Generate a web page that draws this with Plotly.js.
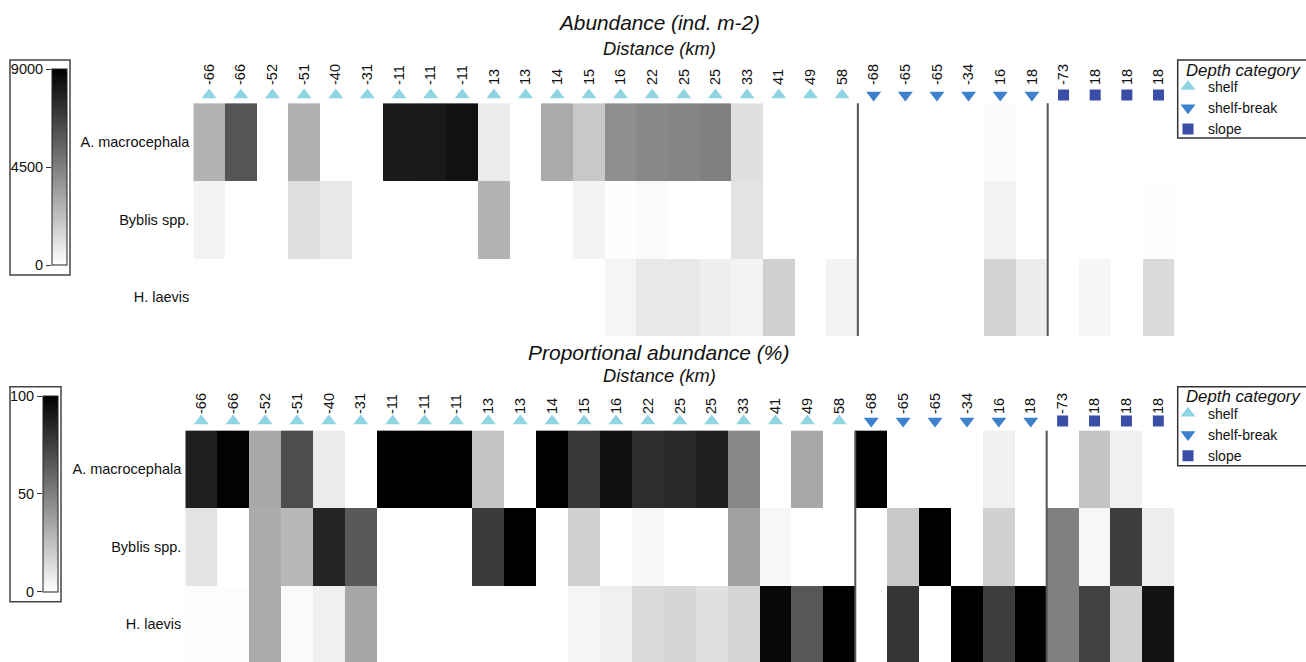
<!DOCTYPE html>
<html>
<head>
<meta charset="utf-8">
<script src="https://cdn.plot.ly/plotly-3.0.1.min.js"></script>
<style>
  html, body { margin: 0; padding: 0; background: #fff; }
  #chart { width: 1306px; height: 662px; }
</style>
</head>
<body>
<div id="chart"></div>
<script>
// ---------------- DATA ----------------
const stations = ['-66','-66','-52','-51','-40','-31','-11','-11','-11','13','13','14','15','16','22','25','25','33','41','49','58',
                  '-68','-65','-65','-34','16','18',
                  '-73','18','18','18'];
const depthCategory = ['shelf','shelf','shelf','shelf','shelf','shelf','shelf','shelf','shelf','shelf','shelf','shelf','shelf','shelf','shelf','shelf','shelf','shelf','shelf','shelf','shelf',
                       'shelf-break','shelf-break','shelf-break','shelf-break','shelf-break','shelf-break',
                       'slope','slope','slope','slope'];
const species = ['A. macrocephala', 'Byblis spp.', 'H. laevis'];

// Abundance (ind. m-2)
const abundA = [2680,6000,0,2800,0,0,8080,8100,8400,700,0,3000,1940,3950,4200,4300,4500,1100,0,0,0,0,0,0,0,180,0,0,0,0,0];
const abundB = [420,0,0,1160,810,0,0,0,0,2680,0,0,420,30,180,0,0,990,0,0,0,0,0,0,0,420,0,0,0,0,50];
const abundH = [0,0,0,0,0,0,0,0,0,0,0,0,0,350,810,810,600,420,1660,0,420,0,0,0,0,1550,670,0,320,0,1300];

// Proportional abundance (%)
const propA = [88,99,34,70,8,0,100,100,100,23,0,100,78,94,82,84,88,47,0,34,0,100,0,0,0,6,0,0,23,6,0];
const propB = [11,0,33,28,86,65,0,0,0,77,100,0,18,0,3,0,0,37,3,0,0,0,21,100,0,18,0,50,3,76,7];
const propH = [1,1,33,2,6,35,0,0,0,0,0,0,4,6,15,16,12,16,97,66,100,0,79,0,100,76,100,50,74,18,93];

const abundTicks = [0, 4500, 9000];
const propTicks = [0, 50, 100];

const categories = ['shelf', 'shelf-break', 'slope'];
const catSymbols = {'shelf': 'triangle-up', 'shelf-break': 'triangle-down', 'slope': 'square'};
const catColors = {'shelf': '#8fd4e2', 'shelf-break': '#3d80cc', 'slope': '#3a4ea8'};

// ---------------- LAYOUT HELPERS ----------------
const W = 1306, H = 662;
const px = v => v / W;          // x pixel -> paper
const py = v => 1 - v / H;      // y pixel -> paper
const FONT = 'Liberation Sans, Arial, sans-serif';
const idx = stations.map((_, i) => i);
const rowPos = [2, 1, 0];

const grey = [[0, '#ffffff'], [1, '#000000']];

const traces = [];

// Heatmaps
traces.push({
  type: 'heatmap', xaxis: 'x', yaxis: 'y',
  x: idx, y: rowPos, z: [abundA, abundB, abundH],
  zmin: abundTicks[0], zmax: abundTicks[abundTicks.length - 1],
  colorscale: grey, hoverinfo: 'skip',
  colorbar: {
    x: px(52), xanchor: 'left', y: py(69), yanchor: 'top',
    len: 196, lenmode: 'pixels', thickness: 15, thicknessmode: 'pixels',
    xpad: 0, ypad: 0, outlinewidth: 1, outlinecolor: '#222',
    showticklabels: false, ticks: ''
  }
});
traces.push({
  type: 'heatmap', xaxis: 'x2', yaxis: 'y2',
  x: idx, y: rowPos, z: [propA, propB, propH],
  zmin: propTicks[0], zmax: propTicks[propTicks.length - 1],
  colorscale: grey, hoverinfo: 'skip',
  colorbar: {
    x: px(43), xanchor: 'left', y: py(396), yanchor: 'top',
    len: 196, lenmode: 'pixels', thickness: 15, thicknessmode: 'pixels',
    xpad: 0, ypad: 0, outlinewidth: 1, outlinecolor: '#222',
    showticklabels: false, ticks: ''
  }
});

// Depth-category markers
const markYTop = 2.608, markYBot = 2.625;
categories.forEach(cat => {
  const xs = idx.filter(i => depthCategory[i] === cat);
  const mk = {symbol: catSymbols[cat], color: catColors[cat], size: cat === 'slope' ? 11 : 13};
  traces.push({type: 'scatter', mode: 'markers', name: cat, xaxis: 'x', yaxis: 'y',
    x: xs, y: xs.map(() => markYTop), marker: mk, legend: 'legend', hoverinfo: 'skip', cliponaxis: false});
  traces.push({type: 'scatter', mode: 'markers', name: cat, xaxis: 'x2', yaxis: 'y2',
    x: xs, y: xs.map(() => markYBot), marker: mk, legend: 'legend2', hoverinfo: 'skip', cliponaxis: false});
});

// empty traces to carry colorbar tick axes
traces.push({type: 'scatter', x: [], y: [], xaxis: 'x3', yaxis: 'y3', showlegend: false, hoverinfo: 'skip'});
traces.push({type: 'scatter', x: [], y: [], xaxis: 'x4', yaxis: 'y4', showlegend: false, hoverinfo: 'skip'});

// Separator lines between depth categories
const shapes = [];
for (let i = 1; i < depthCategory.length; i++) {
  if (depthCategory[i] !== depthCategory[i - 1]) {
    ['', '2'].forEach(s => shapes.push({
      type: 'line', xref: 'x' + s, yref: 'y' + s,
      x0: i - 0.5, x1: i - 0.5, y0: -0.5, y1: 2.5,
      line: {color: '#555', width: 2}, layer: 'above'
    }));
  }
}
// colorbar frames
shapes.push({type: 'rect', xref: 'paper', yref: 'paper', x0: px(10), x1: px(70), y0: py(275), y1: py(60),
  line: {color: '#444', width: 1.5}});
shapes.push({type: 'rect', xref: 'paper', yref: 'paper', x0: px(10), x1: px(61), y0: py(601.7), y1: py(386.7),
  line: {color: '#444', width: 1.5}});
// legend frames (box runs off the right edge, as in the original)
shapes.push({type: 'rect', xref: 'paper', yref: 'paper', x0: px(1177.7), x1: px(1312), y0: py(138), y1: py(60),
  line: {color: '#333', width: 1.5}});
shapes.push({type: 'rect', xref: 'paper', yref: 'paper', x0: px(1177.7), x1: px(1312), y0: py(465.7), y1: py(386.7),
  line: {color: '#333', width: 1.5}});

const xTop = {
  domain: [px(193.3), px(1174.3)], range: [-0.5, 30.5], side: 'top', anchor: 'y',
  tickmode: 'array', tickvals: idx, ticktext: stations, tickangle: -90, ticks: '',
  tickfont: {size: 14.5, color: '#111', family: FONT},
  showgrid: false, zeroline: false, showline: false, fixedrange: true
};
const yTop = {
  domain: [py(336), py(86)], range: [-0.5, 2.724], anchor: 'x',
  tickmode: 'array', tickvals: rowPos, ticktext: species, ticks: '', ticklabelstandoff: 3,
  tickfont: {size: 14.5, color: '#111', family: FONT},
  showgrid: false, zeroline: false, showline: false, fixedrange: true
};

const legendBase = {
  xanchor: 'left', yanchor: 'top',
  borderwidth: 0, bgcolor: 'rgba(0,0,0,0)',
  font: {size: 14, family: FONT, color: '#111'},
  itemwidth: 30, tracegroupgap: 0
};

const layout = {
  width: W, height: H,
  margin: {l: 0, r: 0, t: 0, b: 0, autoexpand: false},
  paper_bgcolor: '#fff', plot_bgcolor: '#fff',
  font: {family: FONT, color: '#111'},
  showlegend: true,
  xaxis: xTop,
  yaxis: yTop,
  xaxis2: Object.assign({}, xTop, {domain: [px(185.3), px(1174.3)], anchor: 'y2'}),
  yaxis2: Object.assign({}, yTop, {domain: [0, py(415)], range: [-0.485, 2.702], anchor: 'x2'}),
  xaxis3: {domain: [px(52), px(67)], anchor: 'y3', visible: false, range: [0, 1], fixedrange: true},
  yaxis3: {domain: [py(265), py(69)], anchor: 'x3', range: [abundTicks[0], abundTicks[abundTicks.length - 1]],
    side: 'left', tickmode: 'array', tickvals: abundTicks, ticks: 'outside', ticklen: 5, tickcolor: '#333',
    tickfont: {size: 14.5, color: '#111', family: FONT},
    showgrid: false, zeroline: false, showline: false, fixedrange: true},
  xaxis4: {domain: [px(43), px(58)], anchor: 'y4', visible: false, range: [0, 1], fixedrange: true},
  yaxis4: {domain: [py(591.7), py(396)], anchor: 'x4', range: [propTicks[0], propTicks[propTicks.length - 1]],
    side: 'left', tickmode: 'array', tickvals: propTicks, ticks: 'outside', ticklen: 5, tickcolor: '#333',
    tickfont: {size: 14.5, color: '#111', family: FONT},
    showgrid: false, zeroline: false, showline: false, fixedrange: true},
  legend: Object.assign({}, legendBase, {x: px(1168), y: py(71)}),
  legend2: Object.assign({}, legendBase, {x: px(1168), y: py(397.7)}),
  shapes: shapes,
  annotations: [
    {text: '<i>Abundance (ind. m-2)</i>', xref: 'paper', yref: 'paper', x: px(659), y: py(23),
     xanchor: 'center', yanchor: 'middle', showarrow: false, font: {size: 20.8, family: FONT, color: '#111'}},
    {text: '<i>Distance (km)</i>', xref: 'paper', yref: 'paper', x: px(659), y: py(48),
     xanchor: 'center', yanchor: 'middle', showarrow: false, font: {size: 18.3, family: FONT, color: '#111'}},
    {text: '<i>Proportional abundance (%)</i>', xref: 'paper', yref: 'paper', x: px(658.5), y: py(352),
     xanchor: 'center', yanchor: 'middle', showarrow: false, font: {size: 21, family: FONT, color: '#111'}},
    {text: '<i>Distance (km)</i>', xref: 'paper', yref: 'paper', x: px(659), y: py(375),
     xanchor: 'center', yanchor: 'middle', showarrow: false, font: {size: 18.3, family: FONT, color: '#111'}},
    {text: '<i>Depth category</i>', xref: 'paper', yref: 'paper', x: px(1184), y: py(70),
     xanchor: 'left', yanchor: 'middle', showarrow: false, font: {size: 16.8, family: FONT, color: '#111'}},
    {text: '<i>Depth category</i>', xref: 'paper', yref: 'paper', x: px(1184), y: py(396.7),
     xanchor: 'left', yanchor: 'middle', showarrow: false, font: {size: 16.8, family: FONT, color: '#111'}}
  ]
};

Plotly.newPlot('chart', traces, layout, {staticPlot: true, displayModeBar: false});
</script>
</body>
</html>
